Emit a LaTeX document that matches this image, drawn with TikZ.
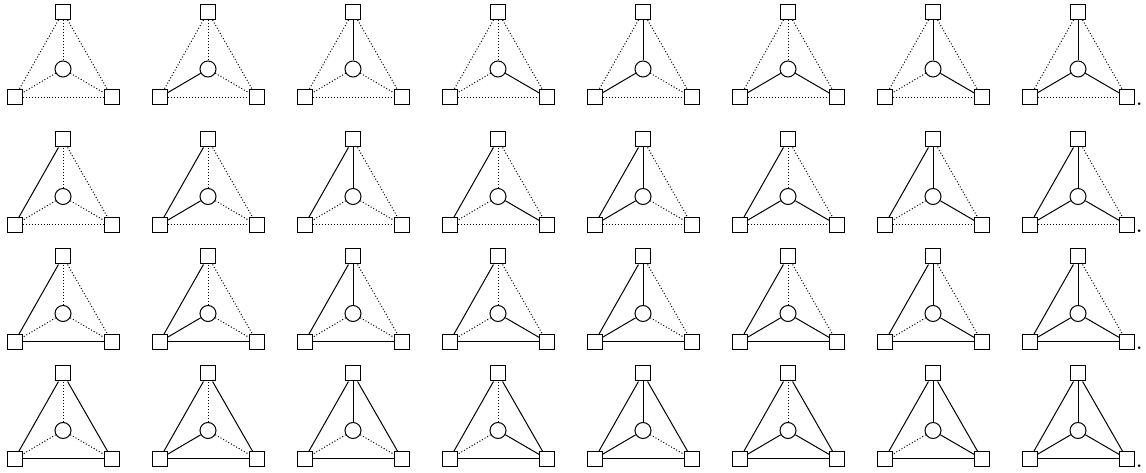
\documentclass[tikz,border=0pt]{standalone}
\usetikzlibrary{positioning}
\tikzset{
  vtx/.style={draw=black, line width=0.6pt, fill=white, inner sep=0pt},
  sq/.style={vtx, rectangle, minimum size=9pt},
  hub/.style={vtx, circle, minimum size=9.6pt},
  solidedge/.style={line width=0.6pt, draw=black},
  dotedge/.style={line width=0.6pt, draw=black, dash pattern=on 0.6pt off 1.2pt},
  stop/.style={font=\bfseries, anchor=base west, inner sep=0.8pt}
}

\begin{document}
\begin{tikzpicture}[x=0.6pt, y=-0.6pt]
\useasboundingbox (0,0) rectangle (1146,473);

% rows: outer edges (top-left, bottom, top-right)
\foreach \r/\y/\el/\eb/\er in {1/12/dotedge/dotedge/dotedge,
    2/139.5/solidedge/dotedge/dotedge,
    3/256.5/solidedge/solidedge/dotedge,
    4/373.5/solidedge/solidedge/solidedge}{
  % columns: spokes (left, top, right)
  \foreach \c/\sl/\st/\sr in {1/dotedge/dotedge/dotedge,
      2/solidedge/dotedge/dotedge,
      3/dotedge/solidedge/dotedge,
      4/dotedge/dotedge/solidedge,
      5/solidedge/solidedge/dotedge,
      6/solidedge/dotedge/solidedge,
      7/dotedge/solidedge/solidedge,
      8/solidedge/solidedge/solidedge}{
    \node[sq] (t-\r-\c) at ({145*(\c-1)+63},{\y}) {};
    \node[sq] (l-\r-\c) at ({145*(\c-1)+14.5},{\y+85.5}) {};
    \node[sq] (b-\r-\c) at ({145*(\c-1)+112},{\y+85.5}) {};
    \node[hub] (h-\r-\c) at ({145*(\c-1)+63},{\y+57}) {};
    \draw[\el] (t-\r-\c) -- (l-\r-\c);
    \draw[\eb] (l-\r-\c) -- (b-\r-\c);
    \draw[\er] (t-\r-\c) -- (b-\r-\c);
    \draw[\sl] (h-\r-\c) -- (l-\r-\c);
    \draw[\st] (h-\r-\c) -- (t-\r-\c);
    \draw[\sr] (h-\r-\c) -- (b-\r-\c);
  }
}

\node[stop] (stop-1) at (b-1-8.south east) {.};
\node[stop] (stop-2) at (b-2-8.south east) {.};
\node[stop] (stop-3) at (b-3-8.south east) {.};
\node[stop] (stop-4) at (b-4-8.south east) {.};

\end{tikzpicture}
\end{document}
